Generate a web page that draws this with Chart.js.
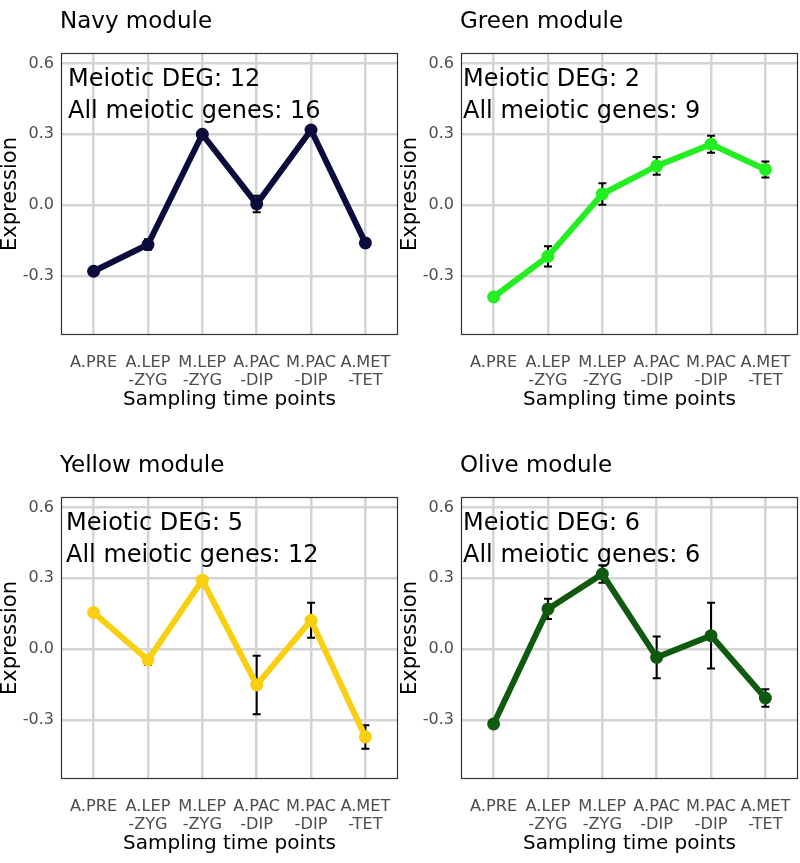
<!DOCTYPE html>
<html>
<head>
<meta charset="utf-8">
<script src="https://cdn.jsdelivr.net/npm/chart.js@4.4.1/dist/chart.umd.min.js"></script>
<style>
  body { margin: 0; background: #fff; }
  #wrap { position: relative; width: 800px; height: 863px; }
  canvas { position: absolute; }
</style>
</head>
<body>
<div id="wrap">
  <canvas id="navy" width="400" height="419" style="left:0;top:0"></canvas>
  <canvas id="green" width="400" height="419" style="left:400px;top:0"></canvas>
  <canvas id="yellow" width="400" height="419" style="left:0;top:444px"></canvas>
  <canvas id="olive" width="400" height="419" style="left:400px;top:444px"></canvas>
</div>
<script>
var categories = [['A.PRE'], ['A.LEP', '-ZYG'], ['M.LEP', '-ZYG'], ['A.PAC', '-DIP'], ['M.PAC', '-DIP'], ['A.MET', '-TET']];
var yTicks = [-0.3, 0, 0.3, 0.6];

var navyValues = [-0.28, -0.167, 0.30, 0.005, 0.318, -0.16];
var navyErrors = [0.01, 0.022, 0.01, 0.035, 0.01, 0.01];

var greenValues = [-0.389, -0.217, 0.047, 0.166, 0.258, 0.151];
var greenErrors = [0.01, 0.043, 0.045, 0.038, 0.036, 0.034];

var yellowValues = [0.155, -0.046, 0.292, -0.152, 0.122, -0.372];
var yellowErrors = [0.01, 0.02, 0.01, 0.124, 0.074, 0.05];

var oliveValues = [-0.317, 0.170, 0.318, -0.035, 0.057, -0.207];
var oliveErrors = [0.01, 0.043, 0.037, 0.088, 0.139, 0.037];

var FONT = "'DejaVu Sans', sans-serif";

// error bars + panel frame, drawn under the line
var errorBars = {
  id: 'errorBars',
  beforeDatasetsDraw: function(chart, args, opts) {
    var ctx = chart.ctx, xs = chart.scales.x, ys = chart.scales.y;
    var a = chart.chartArea;
    ctx.save();
    ctx.strokeStyle = '#333';
    ctx.lineWidth = 1.2;
    ctx.strokeRect(a.left + 0.5, a.top + 0.5, a.right - a.left - 1, a.bottom - a.top - 1);
    ctx.strokeStyle = '#000';
    ctx.lineWidth = 2;
    chart.data.datasets[0].data.forEach(function(p, i) {
      var e = opts.errors[i];
      var x = xs.getPixelForValue(p.x);
      var lo = ys.getPixelForValue(p.y - e), hi = ys.getPixelForValue(p.y + e);
      ctx.beginPath();
      ctx.moveTo(x, lo); ctx.lineTo(x, hi);
      ctx.moveTo(x - 4, lo); ctx.lineTo(x + 4, lo);
      ctx.moveTo(x - 4, hi); ctx.lineTo(x + 4, hi);
      ctx.stroke();
    });
    ctx.restore();
  }
};

// panel title and gene counts
var panelText = {
  id: 'panelText',
  afterDraw: function(chart, args, opts) {
    var ctx = chart.ctx, a = chart.chartArea;
    ctx.save();
    ctx.fillStyle = '#000';
    ctx.textAlign = 'left';
    ctx.textBaseline = 'alphabetic';
    ctx.font = '23px ' + FONT;
    ctx.fillText(opts.title, a.left - 1, a.top - 25);
    ctx.font = '24px ' + FONT;
    ctx.fillText('Meiotic DEG: ' + opts.deg, a.left + opts.dx, a.top + 33);
    ctx.fillText('All meiotic genes: ' + opts.all, a.left + opts.dx, a.top + 65);
    ctx.restore();
  }
};

function makePanel(id, title, color, values, errors, deg, all, dx) {
  var pts = values.map(function(v, i) { return { x: i, y: v }; });
  new Chart(document.getElementById(id), {
    type: 'line',
    data: {
      datasets: [{
        data: pts,
        borderColor: color,
        backgroundColor: color,
        borderWidth: 6,
        pointRadius: 6.5,
        pointBorderWidth: 0,
        pointBackgroundColor: color,
        tension: 0
      }]
    },
    options: {
      responsive: false,
      animation: false,
      layout: { autoPadding: false, padding: { top: 53, left: 0, right: 2, bottom: 0 } },
      plugins: {
        legend: { display: false },
        tooltip: { enabled: false },
        errorBars: { errors: errors },
        panelText: { title: title, deg: deg, all: all, dx: dx }
      },
      scales: {
        x: {
          type: 'linear',
          min: -0.6,
          max: 5.6,
          afterBuildTicks: function(s) { s.ticks = categories.map(function(c, i) { return { value: i }; }); },
          afterFit: function(s) { s.height = 84; s.paddingLeft = 0; s.paddingRight = 0; },
          ticks: {
            padding: 19,
            color: '#4d4d4d',
            font: { family: FONT, size: 16.2, lineHeight: 1.12 },
            maxRotation: 0,
            autoSkip: false,
            callback: function(v) { return categories[v]; }
          },
          grid: { color: '#d4d4d4', lineWidth: 2.5, drawTicks: false },
          border: { display: false },
          title: {
            display: true,
            text: 'Sampling time points',
            color: '#000',
            font: { family: FONT, size: 20, lineHeight: 1 },
            padding: { top: 9, bottom: 9 }
          }
        },
        y: {
          min: -0.55,
          max: 0.644,
          afterBuildTicks: function(s) { s.ticks = yTicks.map(function(t) { return { value: t }; }); },
          afterFit: function(s) { s.width = 61; s.paddingTop = 0; s.paddingBottom = 0; },
          ticks: {
            padding: 7,
            color: '#4d4d4d',
            font: { family: FONT, size: 16 },
            callback: function(v) { return v.toFixed(1); }
          },
          grid: { color: '#d4d4d4', lineWidth: 2.5, drawTicks: false },
          border: { display: false },
          title: {
            display: true,
            text: 'Expression',
            color: '#000',
            font: { family: FONT, size: 21, lineHeight: 1 },
            padding: { top: 0, bottom: 0 }
          }
        }
      }
    },
    plugins: [errorBars, panelText]
  });
}

makePanel('navy', 'Navy module', '#0b0b3d', navyValues, navyErrors, 12, 16, 7);
makePanel('green', 'Green module', '#22ee22', greenValues, greenErrors, 2, 9, 2);
makePanel('yellow', 'Yellow module', '#f8d010', yellowValues, yellowErrors, 5, 12, 5);
makePanel('olive', 'Olive module', '#0f5a0f', oliveValues, oliveErrors, 6, 6, 2);
</script>
</body>
</html>
